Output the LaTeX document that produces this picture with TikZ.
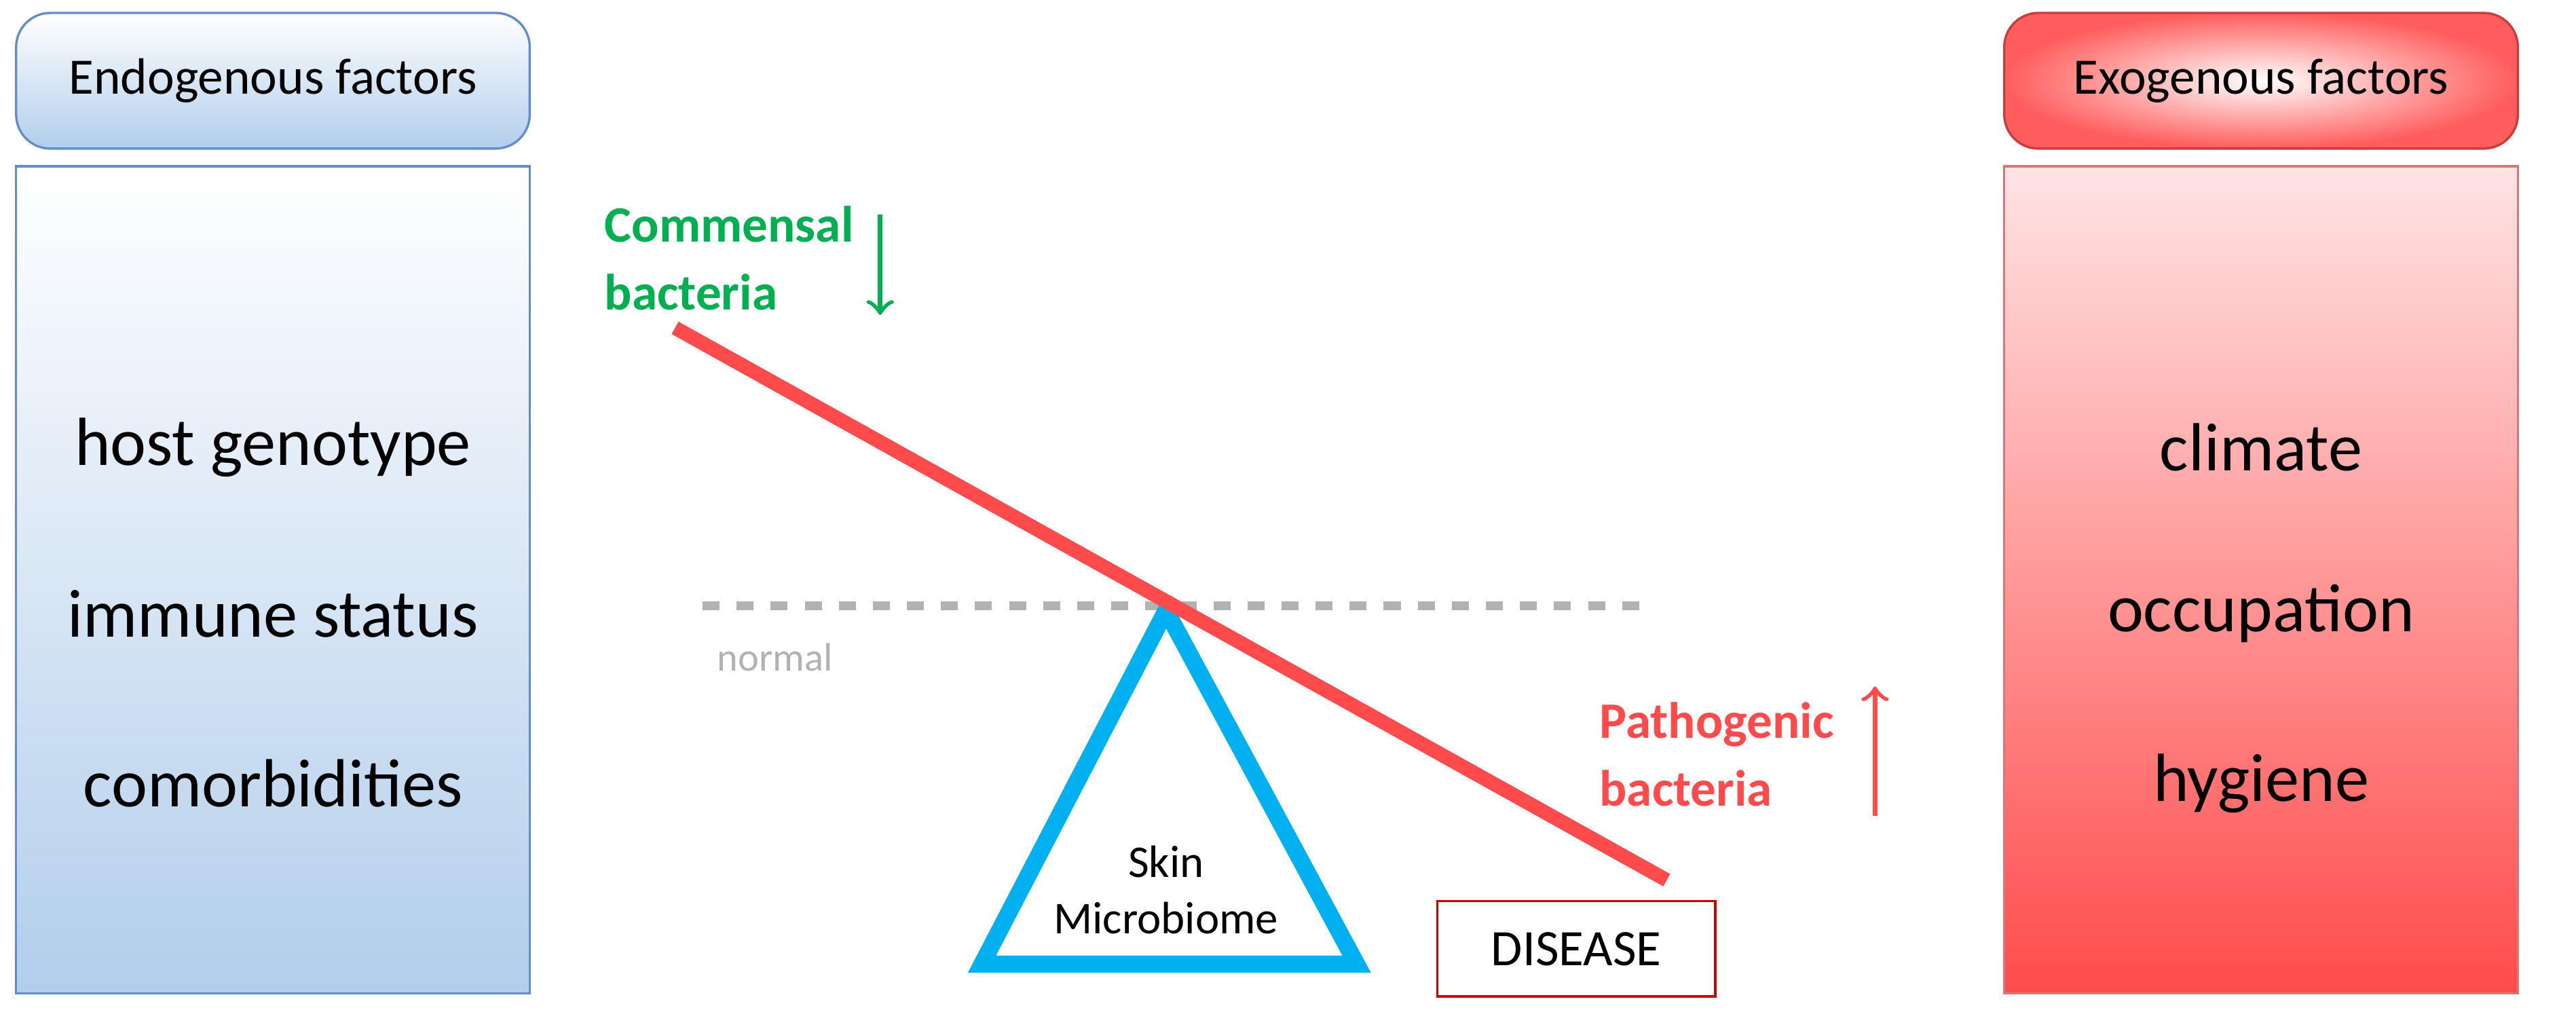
\documentclass[tikz,border=0pt]{standalone}
\usepackage{fontspec}
\setmainfont{Carlito}
\usetikzlibrary{positioning}

\definecolor{paneblue}{RGB}{100,140,200}
\definecolor{lightblue}{RGB}{178,206,235}
\definecolor{panered}{RGB}{200,60,60}
\definecolor{comgreen}{RGB}{0,176,80}
\definecolor{patred}{RGB}{255,75,75}
\definecolor{skyblue}{RGB}{0,176,240}

\tikzset{
  header/.style={draw=paneblue, rounded corners=6pt, minimum width=3.18cm, minimum height=0.84cm, font=\fontsize{9}{11}\selectfont},
  panel/.style={draw=paneblue, minimum width=3.18cm, minimum height=5.12cm},
  factor/.style={font=\fontsize{12}{14}\selectfont}
}

\begin{document}
\begin{tikzpicture}
  \useasboundingbox (0,0) rectangle (15.95,6.37);

  % Endogenous side
  \node[header, top color=white, bottom color=lightblue] (endohead) at (1.69,5.87) {Endogenous factors};
  \node[panel, top color=white, bottom color=lightblue] (endopanel) at (1.69,2.78) {};
  \node[factor] (genotype) at (1.69,3.60) {host genotype};
  \node[factor] (immune) at (1.69,2.57) {immune status};
  \node[factor] (comorb) at (1.69,1.52) {comorbidities};

  % Exogenous side
  \node[header, inner color=white, outer color=patred!90, draw=panered] (exohead) at (14.00,5.87) {Exogenous factors};
  \node[panel, draw=panered!70, top color=patred!15, bottom color=patred] (exopanel) at (14.00,2.78) {};
  \node[factor] (climate) at (14.00,3.60) {climate};
  \node[factor] (occupation) at (14.00,2.57) {occupation};
  \node[factor] (hygiene) at (14.00,1.52) {hygiene};

  % Normal level
  \draw[gray!60, dashed, line width=1.5pt] (4.35,2.62) -- (10.15,2.62);
  \node[gray!60, font=\fontsize{7}{8}\selectfont] (normal) at (4.80,2.30) {normal};

  % Fulcrum and beam
  \draw[skyblue, line width=3pt, line join=miter] (7.22,2.59) -- (8.40,0.40) -- (6.08,0.40) -- cycle;
  \node[align=center, font=\fontsize{8}{10}\selectfont] (skin) at (7.22,0.86) {Skin\\Microbiome};
  \draw[patred, line width=2.5pt] (4.18,4.34) -- (10.32,0.92);
  \node[draw=red!80!black, minimum width=1.72cm, minimum height=0.59cm, font=\fontsize{9}{11}\selectfont] (disease) at (9.76,0.495) {DISEASE};

  % Bacteria labels
  \node[comgreen, font=\bfseries\fontsize{9}{12}\selectfont, align=left, anchor=west] (commensal) at (3.62,4.77) {Commensal\\bacteria};
  \coordinate (gtop) at (5.45,5.04);
  \coordinate (gbot) at (5.45,4.42);
  \draw[comgreen, ->, thick] (gtop) -- (gbot);
  \node[patred, font=\bfseries\fontsize{9}{12}\selectfont, align=left, anchor=west] (pathogenic) at (9.78,1.70) {Pathogenic\\bacteria};
  \coordinate (rbot) at (11.61,1.32);
  \coordinate (rtop) at (11.61,2.12);
  \draw[patred, ->, thick] (rbot) -- (rtop);
\end{tikzpicture}
\end{document}
